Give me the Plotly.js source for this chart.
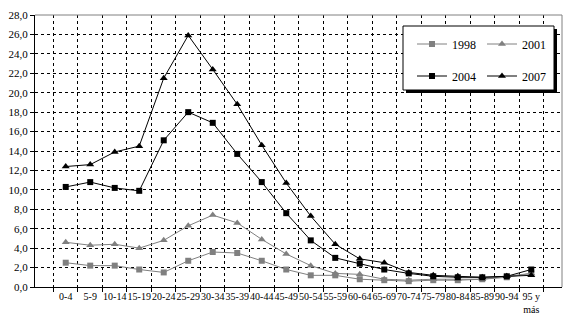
<!DOCTYPE html>
<html>
<head>
<meta charset="utf-8">
<script src="https://cdn.plot.ly/plotly-3.0.1.min.js"></script>
<style>html,body{margin:0;padding:0;background:#fff;}#chart{width:566px;height:328px;}</style>
</head>
<body>
<div id="chart"></div>
<script>
var ages = ['0-4','5-9','10-14','15-19','20-24','25-29','30-34','35-39','40-44','45-49','50-54','55-59','60-64','65-69','70-74','75-79','80-84','85-89','90-94','95 y<br>más'];
var years = ['1998','2001','2004','2007'];
var v1998 = [2.5, 2.2, 2.2, 1.8, 1.5, 2.7, 3.6, 3.5, 2.7, 1.8, 1.2, 1.2, 0.8, 0.7, 0.6, 0.7, 0.7, 0.8, 1.0, 1.4];
var v2001 = [4.6, 4.3, 4.4, 4.0, 4.8, 6.3, 7.4, 6.6, 4.9, 3.4, 2.2, 1.4, 1.3, 0.8, 0.7, 0.8, 0.8, 0.8, 1.1, 1.4];
var v2004 = [10.3, 10.8, 10.2, 9.9, 15.1, 18.0, 16.9, 13.7, 10.8, 7.6, 4.8, 3.0, 2.4, 1.8, 1.4, 1.1, 1.0, 1.0, 1.1, 1.8];
var v2007 = [12.4, 12.6, 13.9, 14.5, 21.5, 25.9, 22.4, 18.8, 14.6, 10.7, 7.3, 4.4, 2.9, 2.5, 1.5, 1.2, 1.1, 1.0, 1.1, 1.2];

var gray = '#808080';
var fontF = 'Liberation Serif';

function tr(y, name, color, symbol, size, leg) {
  return {
    x: ages, y: y, name: name, type: 'scatter', mode: 'lines+markers',
    line: {color: color, width: 1},
    marker: {color: color, symbol: symbol, size: size},
    legend: leg, hoverinfo: 'skip'
  };
}
var data = [
  tr(v1998, years[0], gray, 'square', 6, 'legend'),
  tr(v2001, years[1], gray, 'triangle-up', 7, 'legend2'),
  tr(v2004, years[2], '#000', 'square', 6, 'legend3'),
  tr(v2007, years[3], '#000', 'triangle-up', 7, 'legend4')
];

function leg(x, y) {
  return {x: x, y: y, xanchor: 'left', yanchor: 'middle', bgcolor: 'rgba(0,0,0,0)',
          borderwidth: 0, font: {family: fontF, size: 12, color: '#000'}, itemwidth: 30};
}

var L = 35, R = 562, T = 15, B = 287;
function px(x) { return (x - L) / (R - L); }
function py(y) { return (B - y) / (B - T); }

var layout = {
  width: 566, height: 328,
  margin: {l: L, r: 566 - R, t: T, b: 328 - B, pad: 0},
  paper_bgcolor: '#fff', plot_bgcolor: '#fff',
  separators: ',.',
  font: {family: fontF, size: 11, color: '#000'},
  showlegend: true,
  legend: leg(px(412), py(44)),
  legend2: leg(px(482), py(44)),
  legend3: leg(px(412), py(76)),
  legend4: leg(px(482), py(76)),
  xaxis: {
    type: 'category', tickson: 'boundaries', tickangle: 0,
    showline: true, linecolor: '#000', linewidth: 1,
    ticks: 'outside', ticklen: 4, tickcolor: '#000',
    showgrid: true, gridcolor: '#000', gridwidth: 1, griddash: '3px,3px',
    tickfont: {family: fontF, size: 10}, zeroline: false, fixedrange: true
  },
  yaxis: {
    range: [0, 28], dtick: 2, tick0: 0, tickformat: '.1f',
    showline: true, linecolor: '#000', linewidth: 1,
    ticks: 'outside', ticklen: 4, tickcolor: '#000',
    showgrid: true, gridcolor: '#000', gridwidth: 1, griddash: '3px,3px',
    tickfont: {family: fontF, size: 11}, zeroline: false, fixedrange: true
  },
  shapes: [
    {type: 'line', xref: 'paper', yref: 'paper', x0: 0, x1: 1, y0: 1, y1: 1, line: {color: gray, width: 1}},
    {type: 'line', xref: 'paper', yref: 'paper', x0: 1, x1: 1, y0: 0, y1: 1, line: {color: gray, width: 1}},
    {type: 'rect', xref: 'paper', yref: 'paper', x0: px(406), x1: px(557), y0: py(93), y1: py(29),
     fillcolor: '#000', line: {width: 0}, layer: 'above'},
    {type: 'rect', xref: 'paper', yref: 'paper', x0: px(403), x1: px(554), y0: py(90), y1: py(26),
     fillcolor: '#fff', line: {color: '#000', width: 1}, layer: 'above'}
  ]
};

Plotly.newPlot('chart', data, layout, {displayModeBar: false, staticPlot: true});
</script>
</body>
</html>
